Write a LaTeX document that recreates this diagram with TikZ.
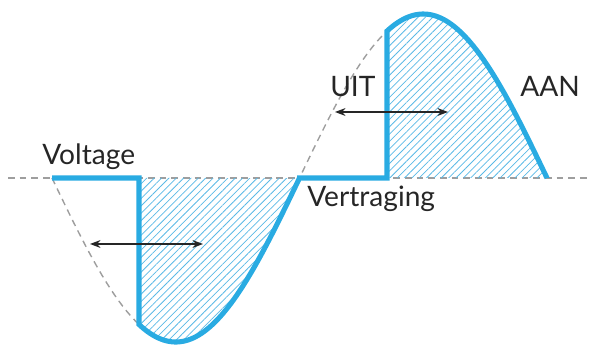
\documentclass[tikz,border=0pt]{standalone}
\usepackage{fontspec}
\setmainfont{Lato}
\usepackage{tikz}
\usetikzlibrary{arrows.meta,patterns.meta}

\definecolor{wave}{RGB}{41,171,226}
\definecolor{hatch}{RGB}{90,185,230}

\begin{document}
\begin{tikzpicture}[
  x=0.025cm, y=0.025cm,
  >=Stealth,
  guide/.style={draw=black!38, line width=1pt, dash pattern=on 4.8pt off 3.5pt},
  pulse/.style={draw=wave, line width=3.6pt, line join=miter},
  hatched/.style={pattern={Lines[angle=45,distance=3.7pt,line width=0.55pt]},
                  pattern color=hatch},
  delayarrow/.style={<->, black!85, line width=1pt},
  lbl/.style={font=\fontsize{20}{24}\selectfont, text=black!85,
              inner sep=0pt, anchor=base west},
]
\useasboundingbox (0,-169) rectangle (590,178);

% sine shape, in pixel-ish units (zeros at 52, 299.5, 547; 180/247.5 = 0.72727)
\def\wave#1{-164*sin(0.72727*(#1-52))}

%%---- Named points on the wave ----------------------------------------
\coordinate (start) at (52,0);
\coordinate (offA)  at (139,0);
\coordinate (onA)   at (139,{\wave{139}});
\coordinate (zeroB) at (299.5,0);
\coordinate (offB)  at (387,0);
\coordinate (onB)   at (387,{\wave{387}});
\coordinate (endC)  at (547,0);

%%---- Axis and full sine (dashed) ---------------------------------------
\draw[guide] (8,0) -- (590,0);
\draw[guide] plot[domain=52:547, samples=120] (\x,{\wave{\x}});

%%---- Hatched delay areas ----------------------------------------------
\fill[hatched] (offA) -- (onA)
  -- plot[domain=139:299.5, samples=60] (\x,{\wave{\x}}) -- cycle;
\fill[hatched] (offB) -- (onB)
  -- plot[domain=387:547, samples=60] (\x,{\wave{\x}}) -- (endC) -- cycle;

%%---- Switched signal --------------------------------------------------
\draw[pulse] (start) -- (offA) -- (onA)
  -- plot[domain=139:299.5, samples=60] (\x,{\wave{\x}})
  -- (zeroB) -- (offB) -- (onB)
  -- plot[domain=387:547, samples=60] (\x,{\wave{\x}}) -- (endC);

%%---- Delay arrows -----------------------------------------------------
\coordinate (arrLa) at (90,-66);
\coordinate (arrLb) at (203,-66);
\draw[delayarrow] (arrLa) -- (arrLb);

\coordinate (arrRa) at (335,66);
\coordinate (arrRb) at (448,66);
\draw[delayarrow] (arrRa) -- (arrRb);

%%---- Labels -----------------------------------------------------------
\node[lbl] (voltage) at (42,13)   {Voltage};
\node[lbl] (uit)     at (330,81)  {UIT};
\node[lbl] (aan)     at (520,81)  {AAN};
\node[lbl] (delay)   at (307,-29) {Vertraging};

\end{tikzpicture}
\end{document}
